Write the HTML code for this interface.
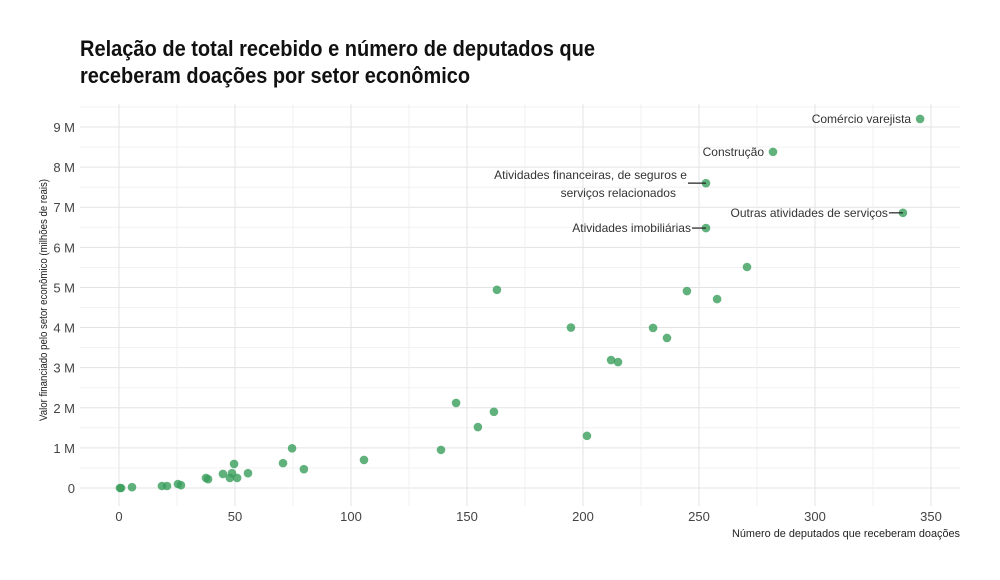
<!DOCTYPE html>
<html><head><meta charset="utf-8"><style>
body{margin:0;background:#fff;}
svg{display:block;font-family:"Liberation Sans",sans-serif;}
</style></head><body>
<svg id="chart" width="1000" height="580">
<text x="80" y="56" font-size="22" font-weight="bold" fill="#111" textLength="515" lengthAdjust="spacingAndGlyphs">Relação de total recebido e número de deputados que</text>
<text x="80" y="83" font-size="22" font-weight="bold" fill="#111" textLength="390" lengthAdjust="spacingAndGlyphs">receberam doações por setor econômico</text>
<g id="grid"></g><g id="axes"></g><g id="pts"></g><g id="lbls"></g>
<text x="960" y="537" font-size="11" fill="#222" text-anchor="end" textLength="228" lengthAdjust="spacingAndGlyphs">Número de deputados que receberam doações</text>
<text transform="translate(47,300) rotate(-90)" font-size="11" fill="#222" text-anchor="middle" textLength="242" lengthAdjust="spacingAndGlyphs">Valor financiado pelo setor econômico (milhões de reais)</text>
</svg>
<script>
const deputados=[0.4,0.9,5.6,18.5,20.7,25.4,26.7,37.5,38.4,44.8,47.8,48.7,49.6,50.9,55.6,70.7,74.6,79.7,105.6,138.8,145.3,154.7,161.6,162.9,194.8,201.7,212.1,215.1,230.2,236.2,244.8,257.8,270.7,253,253,281.9,337.9,345.3];
const valores=[0,0,0.02,0.05,0.05,0.1,0.07,0.25,0.22,0.35,0.25,0.37,0.6,0.25,0.37,0.62,0.99,0.47,0.7,0.95,2.12,1.52,1.9,4.94,4.0,1.3,3.19,3.14,3.99,3.74,4.91,4.71,5.51,6.48,7.6,8.38,6.86,9.2];
const xTicks=[0,50,100,150,200,250,300,350];
const yTicks=[0,1,2,3,4,5,6,7,8,9];
const yTickLabels=["0","1 M","2 M","3 M","4 M","5 M","6 M","7 M","8 M","9 M"];
const labelNames=["Comércio varejista","Construção","Atividades financeiras, de seguros e|serviços relacionados","Outras atividades de serviços","Atividades imobiliárias"];
const labelIdx=[37,35,34,36,33];
const NS="http://www.w3.org/2000/svg";
const X=v=>119+v*812/350, Y=v=>488-v*361/9;
function mk(tag,attrs,parent){const e=document.createElementNS(NS,tag);for(const k in attrs)e.setAttribute(k,attrs[k]);parent.appendChild(e);return e;}
const grid=document.getElementById('grid'),axes=document.getElementById('axes'),pts=document.getElementById('pts'),lb=document.getElementById('lbls');
for(let v=-0.5;v<=9.5;v+=0.5){const y=Y(v);if(y<104||y>506)continue;const l=mk('line',{x1:80,x2:960,y1:y,y2:y,stroke:v%1===0?'#e3e3e3':'#efefef','stroke-width':v%1===0?1:0.8},grid);

}
for(let v=-25;v<=375;v+=25){const x=X(v);if(x<80||x>960)continue;const l=mk('line',{x1:x,x2:x,y1:104,y2:506,stroke:v%50===0?'#e3e3e3':'#efefef','stroke-width':v%50===0?1:0.8},grid);

}
xTicks.forEach(v=>{const t=mk('text',{x:X(v),y:521,'font-size':13,fill:'#444','text-anchor':'middle'},axes);t.textContent=v;

});
yTicks.forEach((v,i)=>{const t=mk('text',{x:75,y:Y(v)+5,'font-size':13,fill:'#444','text-anchor':'end'},axes);t.textContent=yTickLabels[i];

});
deputados.forEach((d,i)=>{const c=mk('circle',{cx:X(d),cy:Y(valores[i]),r:4.3,fill:'#3a9e5c','fill-opacity':0.8},pts);

});
labelNames.forEach((n,j)=>{const i=labelIdx[j];const px=X(deputados[i]),py=Y(valores[i]);const lines=n.split('|');
let tx=px-9,ty=py+4;
if(j===2){mk('line',{x1:px-18,x2:px,y1:py,y2:py,stroke:'#222','stroke-width':1.2},lb);tx=px-19;ty=py-4;}
if(j===3||j===4){mk('line',{x1:px-14,x2:px,y1:py,y2:py,stroke:'#222','stroke-width':1.2},lb);tx=px-15;}
const t=mk('text',{x:tx,y:ty,'font-size':12,fill:'#333','text-anchor':'end'},lb);


if(lines.length===1)t.textContent=lines[0];else{
const a=mk('tspan',{x:tx,dy:0},t);a.textContent=lines[0];const b=mk('tspan',{x:tx-11,dy:18},t);b.textContent=lines[1];}});
</script>
</body></html>
